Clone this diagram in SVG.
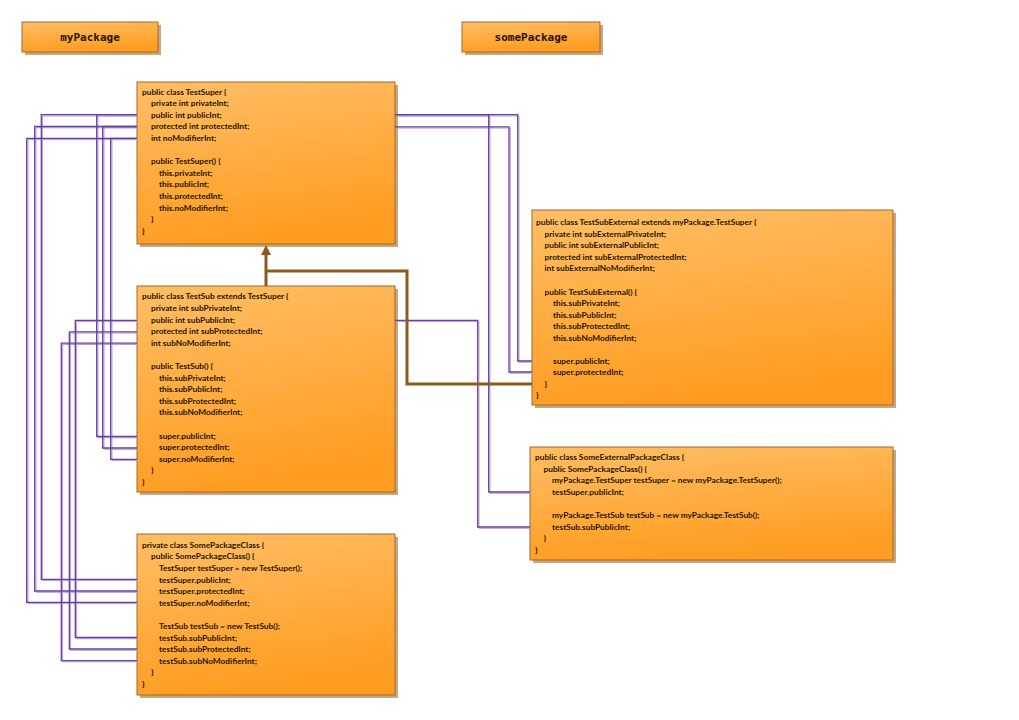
<svg xmlns="http://www.w3.org/2000/svg" xmlns:xlink="http://www.w3.org/1999/xlink" width="1019" height="720" viewBox="0 0 1019 720">
<defs>
<linearGradient id="og" x1="0" y1="0" x2="0.25" y2="1">
<stop offset="0" stop-color="#FFBE66"/>
<stop offset="1" stop-color="#FF9D22"/>
</linearGradient>
<marker id="tri" viewBox="0 0 10 10" markerWidth="10" markerHeight="11" refX="3" refY="5" orient="auto" markerUnits="userSpaceOnUse">
<path d="M0,0 L10,5 L0,10 z" fill="#8C5A1E"/>
</marker>
<path id="c1" d="M137,114.7 H96.7 V436.5 H137"/>
<path id="c2" d="M137,114.7 H41.3 V579.3 H137"/>
<path id="c3" d="M137,126.5 H102.7 V448 H137"/>
<path id="c4" d="M137,126.5 H34.7 V591 H137"/>
<path id="c5" d="M137,138.3 H110.7 V459.3 H137"/>
<path id="c6" d="M137,138.3 H26.7 V602.3 H137"/>
<path id="c7" d="M137,320.3 H75.3 V637.5 H137"/>
<path id="c8" d="M137,331.8 H69.3 V649 H137"/>
<path id="c9" d="M137,343.2 H61.3 V660.6 H137"/>
<path id="c10" d="M395,114.7 H517.7 V361 H532"/>
<path id="c11" d="M395,114.7 H488.7 V492 H530"/>
<path id="c12" d="M395,126.8 H509 V372 H532"/>
<path id="c13" d="M395,320.3 H477.7 V527 H530"/>
<style>
.shadow{fill:#C9A67C}
.box{fill:url(#og);stroke:#A2692A;stroke-width:1}
.code{font-family:Lato,"Liberation Sans",sans-serif;font-size:8.3px;font-weight:700;fill:#261400}
.pkg{font-family:"DejaVu Sans Mono",monospace;font-size:11px;font-weight:700;fill:#261400;text-anchor:middle}
.dk{fill:none;stroke:#6A3EA0;stroke-width:1.3}
.lt{fill:none;stroke:#B79BDC;stroke-width:1}
.inh{fill:none;stroke:#8C5A1E;stroke-width:3}
</style>
</defs>
<rect width="1019" height="720" fill="#FFFFFF"/>

<g id="myPackage">
<rect class="shadow" x="25" y="25" width="136" height="30"/>
<rect class="box" x="22" y="22" width="136" height="30"/>
<text class="pkg" x="90" y="40.5">myPackage</text>
</g>
<g id="somePackage">
<rect class="shadow" x="465" y="25" width="138" height="30"/>
<rect class="box" x="462" y="22" width="138" height="30"/>
<text class="pkg" x="531" y="40.5">somePackage</text>
</g>

<g id="TestSuper">
<rect class="shadow" x="140" y="85" width="258" height="162"/>
<rect class="box" x="137" y="82" width="258" height="162"/>
<text class="code">
<tspan x="142" y="94.5">public class TestSuper {</tspan>
<tspan x="151" y="106.1">private int privateInt;</tspan>
<tspan x="151" y="117.7">public int publicInt;</tspan>
<tspan x="151" y="129.3">protected int protectedInt;</tspan>
<tspan x="151" y="140.9">int noModifierInt;</tspan>
<tspan x="151" y="164.1">public TestSuper() {</tspan>
<tspan x="159" y="175.7">this.privateInt;</tspan>
<tspan x="159" y="187.3">this.publicInt;</tspan>
<tspan x="159" y="198.9">this.protectedInt;</tspan>
<tspan x="159" y="210.5">this.noModifierInt;</tspan>
<tspan x="151" y="222.1">}</tspan>
<tspan x="142" y="233.7">}</tspan>
</text>
</g>

<g id="TestSub">
<rect class="shadow" x="140" y="289" width="258" height="206"/>
<rect class="box" x="137" y="286" width="258" height="206"/>
<text class="code">
<tspan x="142" y="299.3">public class TestSub extends TestSuper {</tspan>
<tspan x="151" y="310.9">private int subPrivateInt;</tspan>
<tspan x="151" y="322.5">public int subPublicInt;</tspan>
<tspan x="151" y="334.1">protected int subProtectedInt;</tspan>
<tspan x="151" y="345.7">int subNoModifierInt;</tspan>
<tspan x="151" y="368.9">public TestSub() {</tspan>
<tspan x="159" y="380.5">this.subPrivateInt;</tspan>
<tspan x="159" y="392.1">this.subPublicInt;</tspan>
<tspan x="159" y="403.7">this.subProtectedInt;</tspan>
<tspan x="159" y="415.3">this.subNoModifierInt;</tspan>
<tspan x="159" y="438.5">super.publicInt;</tspan>
<tspan x="159" y="450.1">super.protectedInt;</tspan>
<tspan x="159" y="461.7">super.noModifierInt;</tspan>
<tspan x="151" y="473.3">}</tspan>
<tspan x="142" y="484.9">}</tspan>
</text>
</g>

<g id="SomePackageClass">
<rect class="shadow" x="140" y="537" width="258" height="161"/>
<rect class="box" x="137" y="534" width="258" height="161"/>
<text class="code">
<tspan x="142" y="547.7">private class SomePackageClass {</tspan>
<tspan x="151" y="559.3">public SomePackageClass() {</tspan>
<tspan x="159" y="570.9">TestSuper testSuper = new TestSuper();</tspan>
<tspan x="159" y="582.5">testSuper.publicInt;</tspan>
<tspan x="159" y="594.1">testSuper.protectedInt;</tspan>
<tspan x="159" y="605.7">testSuper.noModifierInt;</tspan>
<tspan x="159" y="628.9">TestSub testSub = new TestSub();</tspan>
<tspan x="159" y="640.5">testSub.subPublicInt;</tspan>
<tspan x="159" y="652.1">testSub.subProtectedInt;</tspan>
<tspan x="159" y="663.7">testSub.subNoModifierInt;</tspan>
<tspan x="151" y="675.3">}</tspan>
<tspan x="142" y="686.9">}</tspan>
</text>
</g>

<g id="TestSubExternal">
<rect class="shadow" x="535" y="213" width="361" height="195"/>
<rect class="box" x="532" y="210" width="361" height="195"/>
<text class="code">
<tspan x="536" y="225.2">public class TestSubExternal extends myPackage.TestSuper {</tspan>
<tspan x="544.5" y="236.75">private int subExternalPrivateInt;</tspan>
<tspan x="544.5" y="248.3">public int subExternalPublicInt;</tspan>
<tspan x="544.5" y="259.85">protected int subExternalProtectedInt;</tspan>
<tspan x="544.5" y="271.4">int subExternalNoModifierInt;</tspan>
<tspan x="544.5" y="294.5">public TestSubExternal() {</tspan>
<tspan x="553" y="306.05">this.subPrivateInt;</tspan>
<tspan x="553" y="317.6">this.subPublicInt;</tspan>
<tspan x="553" y="329.15">this.subProtectedInt;</tspan>
<tspan x="553" y="340.7">this.subNoModifierInt;</tspan>
<tspan x="553" y="363.8">super.publicInt;</tspan>
<tspan x="553" y="375.35">super.protectedInt;</tspan>
<tspan x="544.5" y="386.9">}</tspan>
<tspan x="536" y="398.45">}</tspan>
</text>
</g>

<g id="SomeExternalPackageClass">
<rect class="shadow" x="533" y="450" width="363" height="113"/>
<rect class="box" x="530" y="447" width="363" height="113"/>
<text class="code">
<tspan x="535" y="460.3">public class SomeExternalPackageClass {</tspan>
<tspan x="543.5" y="471.85">public SomePackageClass() {</tspan>
<tspan x="552" y="483.4">myPackage.TestSuper testSuper = new myPackage.TestSuper();</tspan>
<tspan x="552" y="494.95">testSuper.publicInt;</tspan>
<tspan x="552" y="518.05">myPackage.TestSub testSub = new myPackage.TestSub();</tspan>
<tspan x="552" y="529.6">testSub.subPublicInt;</tspan>
<tspan x="543.5" y="541.15">}</tspan>
<tspan x="535" y="552.7">}</tspan>
</text>
</g>

<g id="connectors">
<g id="lightLines" class="lt" transform="translate(1.3 1.3)">
<use xlink:href="#c1"/><use xlink:href="#c2"/><use xlink:href="#c3"/><use xlink:href="#c4"/>
<use xlink:href="#c5"/><use xlink:href="#c6"/><use xlink:href="#c7"/><use xlink:href="#c8"/>
<use xlink:href="#c9"/><use xlink:href="#c10"/><use xlink:href="#c11"/><use xlink:href="#c12"/>
<use xlink:href="#c13"/>
</g>
<g id="darkLines" class="dk">
<use xlink:href="#c1"/><use xlink:href="#c2"/><use xlink:href="#c3"/><use xlink:href="#c4"/>
<use xlink:href="#c5"/><use xlink:href="#c6"/><use xlink:href="#c7"/><use xlink:href="#c8"/>
<use xlink:href="#c9"/><use xlink:href="#c10"/><use xlink:href="#c11"/><use xlink:href="#c12"/>
<use xlink:href="#c13"/>
</g>
<path class="inh" d="M532,384 H407 V271 H266"/>
<path class="inh" d="M266,286 V252" marker-end="url(#tri)"/>
</g>
</svg>
